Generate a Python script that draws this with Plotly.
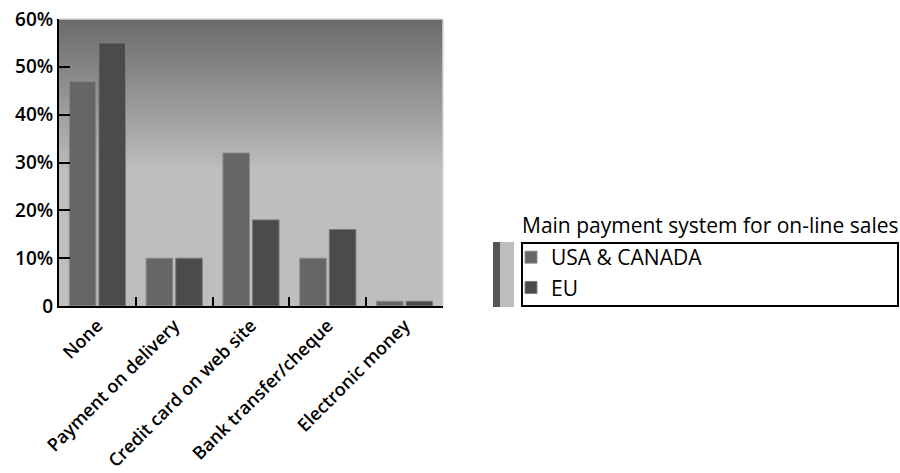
import plotly.graph_objects as go

categories = ["None", "Payment on delivery", "Credit card on web site",
              "Bank transfer/cheque", "Electronic money"]
usa_canada = [47, 10, 32, 10, 1]
eu = [55, 10, 18, 16, 1]
y_tickvals = [0, 10, 20, 30, 40, 50, 60]
y_ticktext = ["0", "10%", "20%", "30%", "40%", "50%", "60%"]
series_names = ["USA & CANADA", "EU"]
legend_title = "Main payment system for on-line sales"

FONT = "Open Sans"
W, H = 900, 473
# plot area in screen pixels (reference)
PX_L, PX_R, PX_T, PX_B = 59, 443, 19, 306
ML = PX_L
MT = PX_T
MR = W - PX_R
MB = H - PX_B
PW = PX_R - PX_L
PH = PX_B - PX_T

def px_x(p):
    return (p - PX_L) / PW

def px_y(p):
    return (PX_B - p) / PH

fig = go.Figure()
fig.add_trace(go.Bar(x=categories, y=usa_canada, name=series_names[0],
                     marker=dict(color="#666666", line=dict(color="#8e8e8e", width=1))))
fig.add_trace(go.Bar(x=categories, y=eu, name=series_names[1],
                     marker=dict(color="#4b4b4b", line=dict(color="#7e7e7e", width=1))))

shapes = []
# gradient background of plot area
n = 100
g_top, g_bot = 1.0, 0.47
c_top, c_bot = 0x6a, 0xbe
shapes.append(dict(type="rect", xref="paper", yref="paper", x0=0, x1=1, y0=0, y1=g_bot + 0.01,
                   fillcolor="#bebebe", line=dict(width=0), layer="below"))
for i in range(n):
    y0 = g_bot + (g_top - g_bot) * i / n
    y1 = min(1.0, g_bot + (g_top - g_bot) * (i + 1) / n + 0.006)
    t = (i + 0.5) / n
    c = int(round(c_bot + (c_top - c_bot) * t))
    shapes.append(dict(type="rect", xref="paper", yref="paper", x0=0, x1=1, y0=y0, y1=y1,
                       fillcolor=f"rgb({c},{c},{c})", line=dict(width=0), layer="below"))
# light border on top/right of plot area
shapes.append(dict(type="line", xref="paper", yref="paper", x0=0, x1=1, y0=1, y1=1,
                   line=dict(color="#d8d8d8", width=1.5)))
shapes.append(dict(type="line", xref="paper", yref="paper", x0=1, x1=1, y0=0, y1=1,
                   line=dict(color="#d8d8d8", width=1.5)))
# small color stripes left of legend
shapes.append(dict(type="rect", xref="paper", yref="paper", x0=px_x(493), x1=px_x(500),
                   y0=px_y(307), y1=px_y(242), fillcolor="#555555", line=dict(width=0)))
shapes.append(dict(type="rect", xref="paper", yref="paper", x0=px_x(500), x1=px_x(514),
                   y0=px_y(307), y1=px_y(242), fillcolor="#bdbdbd", line=dict(width=0)))
# legend box
shapes.append(dict(type="rect", xref="paper", yref="paper", x0=px_x(522), x1=px_x(898),
                   y0=px_y(306), y1=px_y(243), line=dict(color="black", width=2),
                   fillcolor="rgba(0,0,0,0)"))

fig.update_layout(
    width=W, height=H,
    margin=dict(l=ML, r=MR, t=MT, b=MB, pad=0, autoexpand=False),
    paper_bgcolor="white", plot_bgcolor="#bebebe",
    barmode="group", bargap=0.23, bargroupgap=0.1,
    font=dict(family=FONT, color="black", size=16),
    shapes=shapes,
    showlegend=True,
    legend=dict(x=px_x(511), y=px_y(237), xanchor="left", yanchor="top",
                bgcolor="rgba(0,0,0,0)", borderwidth=0,
                font=dict(family=FONT, size=21, color="black", weight=500),
                itemwidth=30, tracegroupgap=0),
    annotations=[dict(text=legend_title, xref="paper", yref="paper",
                      x=px_x(520), y=px_y(225), xanchor="left", yanchor="middle",
                      showarrow=False,
                      font=dict(family=FONT, size=21, color="black", weight=500))],
)
fig.update_xaxes(showline=True, linecolor="black", linewidth=2, ticks="inside",
                 tickson="boundaries", ticklen=9, tickwidth=2, tickcolor="black",
                 tickangle=-45, tickfont=dict(family=FONT, size=18, weight=600),
                 showgrid=False, zeroline=False)
fig.update_yaxes(range=[0, 60], showline=True, linecolor="black", linewidth=2,
                 ticks="inside", ticklen=11, tickwidth=2, tickcolor="black",
                 tickvals=y_tickvals, ticktext=y_ticktext, ticklabeloverflow="allow",
                 tickfont=dict(family=FONT, size=19, weight=600),
                 showgrid=False, zeroline=False)

fig.write_html("out.html", config={"displayModeBar": False},
               post_script="document.body.style.margin='0';"
                           "document.documentElement.style.overflow='hidden';")
